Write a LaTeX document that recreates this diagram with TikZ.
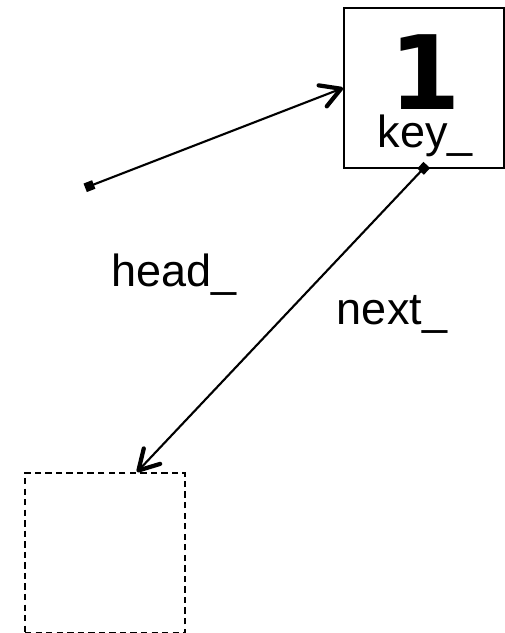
\documentclass[tikz,border=0pt]{standalone}
\usepackage{fontspec}
\setmainfont{Liberation Sans}
\newfontfamily\keyfont{DejaVu Sans}
\usetikzlibrary{positioning,calc}
\usetikzlibrary{arrows.meta}
\tikzset{
  cell/.style={draw=black,line width=1.4pt,minimum size=4cm,inner sep=0pt},
  nilcell/.style={cell,dashed,dash pattern=on 4.5pt off 3pt},
  ptr/.style={draw=black,line width=1.5pt,
    {Square[length=6.5pt,width=6.5pt]}-{Straight Barb[length=14pt,width=16pt,line width=3pt,round]}},
}
\tikzset{lbl/.style={font=\fontsize{32}{38}\selectfont,inner sep=0pt,anchor=base}, keytext/.style={font=\fontsize{32}{27}\selectfont,align=center,inner sep=0pt}}
\newcommand{\bigdigit}[1]{{\keyfont\bfseries\fontsize{73}{80}\selectfont #1}}

\begin{document}
\begin{tikzpicture}[scale=1]
\useasboundingbox (0,0) rectangle (12.6,15.825);
\node[cell] (n1) at (10.6,13.625) {};
\node[nilcell] (nil) at (2.625,2.0) {};
\node[keytext] (key) at (10.63,13.42) {\bigdigit{1}\\key\_};
\coordinate (head) at (2.13,11.13);
\coordinate (next) at (10.67,11.7);
\draw[ptr] (head)--(n1.west);
\draw[ptr] (next)--([xshift=0.8cm]nil.north);
\node[lbl] (headlbl) at (4.36,8.65) {head\_};
\node[lbl] (nextlbl) at (9.8,7.7) {next\_};
\end{tikzpicture}
\end{document}
